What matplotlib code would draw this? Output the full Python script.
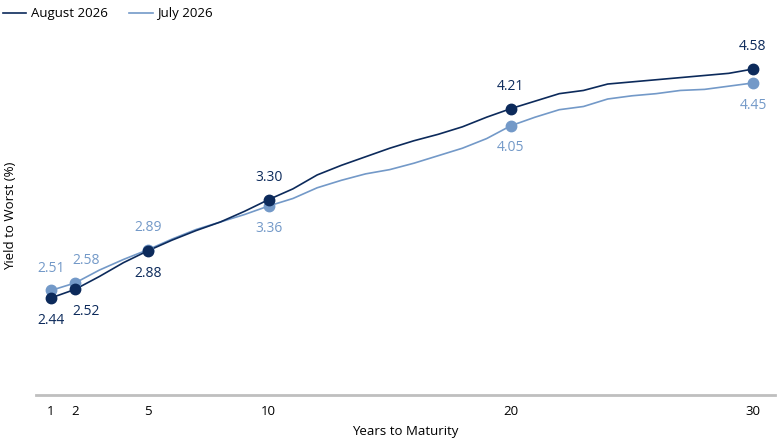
import matplotlib
matplotlib.use("Agg")
import matplotlib.pyplot as plt
from matplotlib.lines import Line2D

plt.rcParams["font.family"] = ["Open Sans", "DejaVu Sans"]

# yield curve, one point per year of maturity
years = list(range(1, 31))
august = [2.44, 2.52, 2.64, 2.77, 2.88, 2.98, 3.07, 3.15, 3.25, 3.36,
          3.46, 3.59, 3.68, 3.76, 3.84, 3.91, 3.97, 4.04, 4.13, 4.21,
          4.28, 4.35, 4.38, 4.44, 4.46, 4.48, 4.50, 4.52, 4.54, 4.58]
july = [2.51, 2.58, 2.70, 2.80, 2.89, 2.99, 3.08, 3.15, 3.22, 3.30,
        3.37, 3.47, 3.54, 3.60, 3.64, 3.70, 3.77, 3.84, 3.93, 4.05,
        4.13, 4.20, 4.23, 4.30, 4.33, 4.35, 4.38, 4.39, 4.42, 4.45]

# highlighted maturities and the labels printed next to them
key_years = [1, 2, 5, 10, 20, 30]
aug_labels = ["2.44", "2.52", "2.88", "3.30", "4.21", "4.58"]
jul_labels = ["2.51", "2.58", "2.89", "3.36", "4.05", "4.45"]
aug_above = [False, False, False, True, True, True]  # july labels go the other way

c_aug = "#0c2a5b"
c_jul = "#7399c8"

fig = plt.figure(figsize=(7.8, 4.4), dpi=100)
ax = fig.add_axes([0.0462, 0.1023, 0.9474, 0.8295])

ax.plot(years, july, color=c_jul, lw=1.2, zorder=2)
ax.plot(years, august, color=c_aug, lw=1.2, zorder=3)

for i, yr in enumerate(key_years):
    ya = august[years.index(yr)]
    yj = july[years.index(yr)]
    ax.plot(yr, yj, "o", color=c_jul, ms=7.5, zorder=4)
    ax.plot(yr, ya, "o", color=c_aug, ms=7.5, zorder=5)
    off = 16 if aug_above[i] else -16
    ha = "left" if yr == 2 else "center"
    dx = -2 if yr == 2 else 0
    ax.annotate(aug_labels[i], (yr, ya), xytext=(dx, off), textcoords="offset points",
                ha=ha, va="center", fontsize=10, color=c_aug)
    ax.annotate(jul_labels[i], (yr, yj), xytext=(dx, -off), textcoords="offset points",
                ha=ha, va="center", fontsize=10, color=c_jul)

ax.set_xlim(0.39, 30.91)
ax.set_ylim(1.533, 4.945)
ax.set_xticks(key_years)
ax.set_xticklabels([str(k) for k in key_years], fontsize=9.5)
ax.set_yticks([])
ax.tick_params(axis="x", length=0, pad=7)
for s in ["top", "right", "left"]:
    ax.spines[s].set_visible(False)
ax.spines["bottom"].set_color("#bfbfbf")
ax.spines["bottom"].set_linewidth(2)
ax.set_xlabel("Years to Maturity", fontsize=9.5, labelpad=5)
fig.text(11 / 780, 0.51, "Yield to Worst (%)", rotation=90, ha="center", va="center",
         fontsize=9.5)

handles = [Line2D([], [], color=c_aug, lw=1.2), Line2D([], [], color=c_jul, lw=1.2)]
fig.legend(handles, ["August 2026", "July 2026"], loc="upper left", bbox_to_anchor=(-0.012, 1.01),
           ncol=2, frameon=False, fontsize=9.5, handlelength=1.8, handletextpad=0.35,
           columnspacing=1.6)

fig.savefig("out.png", dpi=100)
